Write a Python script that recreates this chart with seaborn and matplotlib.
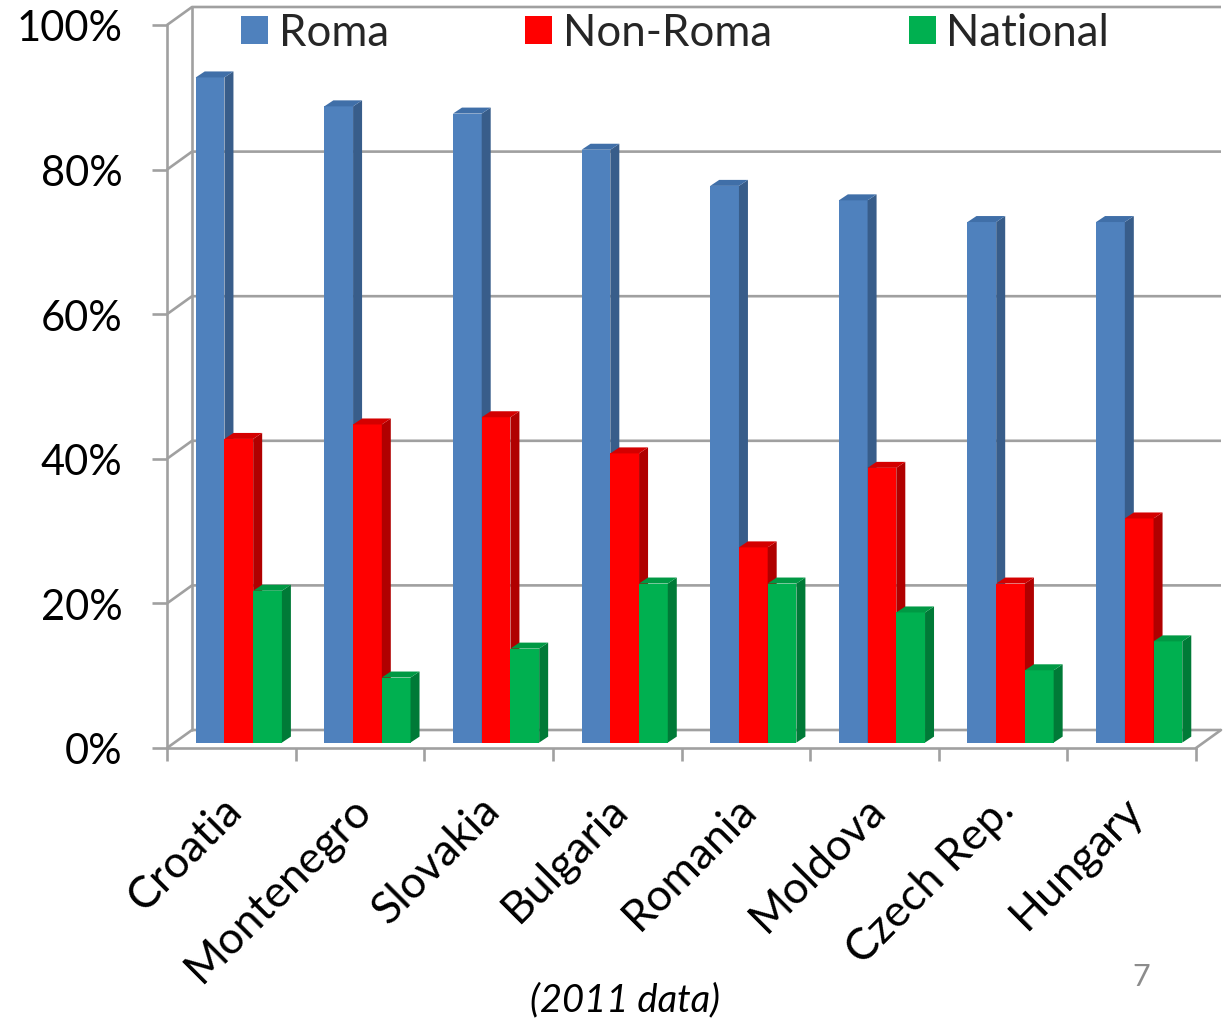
import numpy as np
import pandas as pd
import matplotlib
matplotlib.use("Agg")
import matplotlib.pyplot as plt
import matplotlib.colors as mcolors
import seaborn as sns
from matplotlib.patches import Polygon, Patch

# ---- data -------------------------------------------------------------
countries = ["Croatia", "Montenegro", "Slovakia", "Bulgaria",
             "Romania", "Moldova", "Czech Rep.", "Hungary"]
roma = [92, 88, 87, 82, 77, 75, 72, 72]
non_roma = [42, 44, 45, 40, 27, 38, 22, 31]
national = [21, 9, 13, 22, 22, 18, 10, 14]
series = ["Roma", "Non-Roma", "National"]
y_ticks = [0, 20, 40, 60, 80, 100]
y_tick_labels = [f"{v}%" for v in y_ticks]

# ---- styling ----------------------------------------------------------
face_colors = ["#4F81BD", "#FF0000", "#00B050"]
side_colors = ["#385D8A", "#B00000", "#007A37"]
top_colors = ["#406FA8", "#D40000", "#009944"]
grid_color = "#A0A0A0"

df = pd.DataFrame({
    "country": countries * 3,
    "group": np.repeat(series, len(countries)),
    "share": roma + non_roma + national,
})

sns.set_theme(style="white")
plt.rcParams["font.family"] = ["Lato", "DejaVu Sans"]

W, H = 1223, 1020
fig = plt.figure(figsize=(W / 100, H / 100), dpi=100)

# front plane of the 3-D box, in pixels
x_left, x_right = 167, 1196
y_zero, y_full = 749, 26
ax = fig.add_axes([x_left / W, 1 - y_zero / H,
                   (x_right - x_left) / W, (y_zero - y_full) / H])

n = len(countries)
ax.set_xlim(-0.5, n - 0.5)
ax.set_ylim(0, 100)
px_x = (x_right - x_left) / n      # pixels per category
px_y = (y_zero - y_full) / 100     # pixels per percent

# depth of the box (back wall offset) and of each bar
wall_dx, wall_dy = 25 / px_x, 18 / px_y
bar_front_dx, bar_front_dy = 7.5 / px_x, 5.4 / px_y
bar_dx, bar_dy = 9 / px_x, 6 / px_y

sns.barplot(data=df, x="country", y="share", hue="group",
            palette=face_colors, width=0.67, saturation=1,
            linewidth=0, legend=False, ax=ax)

# ---- back wall and side wall gridlines -----------------------------------
for v in y_ticks:
    ax.plot([-0.5, -0.5 + wall_dx, n - 0.5 + wall_dx],
            [v, v + wall_dy, v + wall_dy],
            color=grid_color, lw=1.9, clip_on=False, zorder=0.5,
            solid_capstyle="butt")
ax.plot([-0.5 + wall_dx] * 2, [wall_dy, 100 + wall_dy],
        color=grid_color, lw=1.9, clip_on=False, zorder=0.5)
# floor right edge
ax.plot([n - 0.5, n - 0.5 + wall_dx], [0, wall_dy],
        color=grid_color, lw=1.9, clip_on=False, zorder=0.5)

# ---- turn the flat bars into 3-D columns ---------------------------------
rgba_faces = [mcolors.to_rgba(c) for c in face_colors]
for p in list(ax.patches):
    fc = p.get_facecolor()
    k = int(np.argmin([np.sum(np.abs(np.array(fc) - np.array(c))) for c in rgba_faces]))
    x = p.get_x() + bar_front_dx
    w = p.get_width()
    h = p.get_height()
    y = bar_front_dy
    z = 2 + x
    p.set_x(x)
    p.set_y(y)
    p.set_zorder(z)
    p.set_clip_on(False)
    side = Polygon([(x + w, y), (x + w + bar_dx, y + bar_dy),
                    (x + w + bar_dx, y + h + bar_dy), (x + w, y + h)],
                   closed=True, facecolor=side_colors[k], edgecolor="none",
                   zorder=z, clip_on=False)
    top = Polygon([(x, y + h), (x + w, y + h),
                   (x + w + bar_dx, y + h + bar_dy), (x + bar_dx, y + h + bar_dy)],
                  closed=True, facecolor=top_colors[k], edgecolor="none",
                  zorder=z, clip_on=False)
    ax.add_patch(side)
    ax.add_patch(top)

# ---- front axes ---------------------------------------------------------
for s in ["top", "right"]:
    ax.spines[s].set_visible(False)
for s in ["left", "bottom"]:
    ax.spines[s].set_color(grid_color)
    ax.spines[s].set_linewidth(1.9)
    ax.spines[s].set_zorder(0.6)

ax.set_yticks(y_ticks)
ax.set_yticklabels(y_tick_labels)
ax.tick_params(axis="y", direction="out", length=11, width=1.9,
               color=grid_color, pad=21, labelsize=30, labelcolor="black",
               left=True)
ax.set_xticks(range(n))
ax.set_xticklabels([])
ax.set_xticks(np.arange(-0.5, n, 1.0), minor=True)
ax.tick_params(axis="x", which="major", length=0)
ax.tick_params(axis="x", which="minor", direction="out", length=9.5,
               width=1.9, color=grid_color, bottom=True)
ax.set_xlabel("")
ax.set_ylabel("")
ax.grid(False)

for i, name in enumerate(countries):
    ax.text(i - 10 / px_x, -(40 / px_y), name, rotation=45,
            ha="right", va="top", rotation_mode="anchor",
            fontsize=32, color="black", clip_on=False)

# ---- legend ---------------------------------------------------------------
handles = [Patch(facecolor=c, edgecolor="none", label=s)
           for c, s in zip(face_colors, series)]
fig.legend(handles=handles, loc="center left",
           bbox_to_anchor=(241 / W, 1 - 34 / H), ncol=3, frameon=False,
           fontsize=31.5, handlelength=0.62, handleheight=0.62,
           handletextpad=0.24, columnspacing=3.12, borderpad=0,
           borderaxespad=0)

fig.text(625 / W, 1 - 1000 / H, "(2011 data)", style="italic",
         fontsize=27.5, ha="center", va="center", color="black")
fig.text(1141 / W, 1 - 977 / H, "7", fontsize=22, ha="center",
         va="center", color="#8C8C8C")

fig.savefig("out.png", dpi=100)
